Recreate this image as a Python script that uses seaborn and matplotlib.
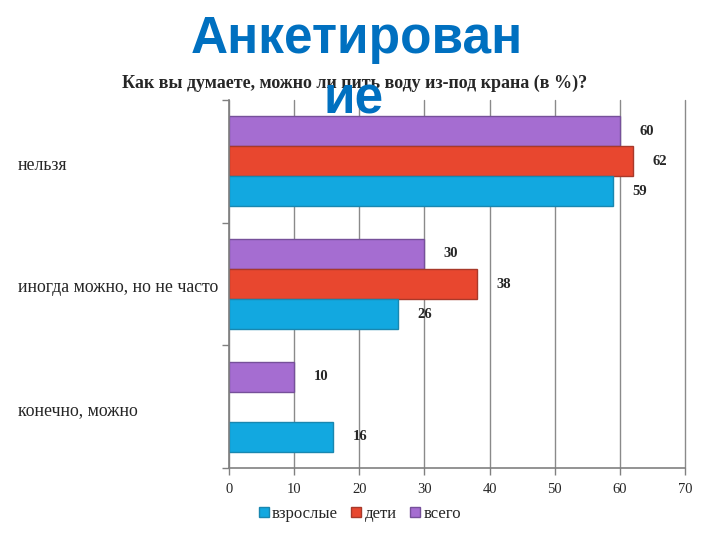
import numpy as np
import pandas as pd
import matplotlib
matplotlib.use('Agg')
import matplotlib.pyplot as plt
import matplotlib.patches as mpatches
import matplotlib.transforms as mtransforms
import seaborn as sns

# данные опроса
categories = ['нельзя', 'иногда можно, но не часто', 'конечно, можно']
vzroslye = [59, 26, 16]
deti = [62, 38, np.nan]
vsego = [60, 30, 10]
series_names = ['взрослые', 'дети', 'всего']
x_ticks = [0, 10, 20, 30, 40, 50, 60, 70]

colors = {'взрослые': '#12A8E0', 'дети': '#E8472F', 'всего': '#A56DD1'}
edges = {'взрослые': '#1987B0', 'дети': '#A8392A', 'всего': '#76509A'}

df = pd.DataFrame({
    'cat': categories * 3,
    'series': [series_names[0]] * 3 + [series_names[1]] * 3 + [series_names[2]] * 3,
    'val': vzroslye + deti + vsego,
})

sns.set_style('white')
plt.rcParams['font.family'] = ['Liberation Serif', 'DejaVu Serif']

fig = plt.figure(figsize=(7.2, 5.4), dpi=100)
ax = fig.add_axes([229 / 720, 72 / 540, 456 / 720, 368 / 540])

# сверху вниз: всего, дети, взрослые
hue_order = ['всего', 'дети', 'взрослые']
sns.barplot(data=df, x='val', y='cat', hue='series', hue_order=hue_order,
            order=categories, palette=colors, width=0.735, ax=ax,
            legend=False, orient='h', saturation=1)

# обводка баров и подписи значений
for cont, name in zip(ax.containers, hue_order):
    for bar in cont:
        bar.set_edgecolor(edges[name])
        bar.set_linewidth(1)
    labels = []
    for bar in cont:
        w = bar.get_width()
        labels.append('' if (np.isnan(w) or w == 0) else '%d' % w)
    ax.bar_label(cont, labels=labels, padding=14, fontsize=10.5,
                 fontweight='bold')

ax.set_xlim(0, 70)
ax.set_ylim(2.5, -0.5)
ax.set_xticks(x_ticks)
ax.set_xticklabels([str(t) for t in x_ticks], fontsize=10.5)
ax.set_yticks([-0.5, 0.5, 1.5, 2.5])
ax.set_yticklabels([])
ax.tick_params(axis='both', length=5, width=1, color='#808080',
               direction='out', left=True, bottom=True, pad=6)
ax.set_xlabel('')
ax.set_ylabel('')
ax.xaxis.grid(True, color='#8a8a8a', linewidth=1)
for gl in ax.get_xgridlines():
    gl.set_clip_on(False)
ax.set_axisbelow(True)
for s in ['top', 'right']:
    ax.spines[s].set_visible(False)
for s in ['left', 'bottom']:
    ax.spines[s].set_color('#808080')
    ax.spines[s].set_linewidth(1.2)

# подписи категорий слева
trans = mtransforms.blended_transform_factory(fig.transFigure, ax.transData)
for i, c in enumerate(categories):
    ax.text(18 / 720, i + 0.03, c, transform=trans, ha='left', va='center',
            fontsize=12.8)

# легенда
handles = [mpatches.Patch(facecolor=colors[n], edgecolor=edges[n]) for n in series_names]
fig.legend(handles, series_names, loc='center', bbox_to_anchor=(0.5, 26 / 540),
           ncol=3, frameon=False, fontsize=12, handlelength=0.6, handleheight=0.6,
           handletextpad=0.2, columnspacing=0.8)

# заголовок диаграммы
fig.text(355 / 720, 1 - 83 / 540, 'Как вы думаете, можно ли пить воду из-под крана (в %)?',
         ha='center', va='center', fontsize=13, fontweight='bold')

# большой заголовок слайда (переносится на две строки, как в оригинале)
fig.text(357 / 720, 1 - 40 / 540, 'Анкетирован', ha='center', va='center',
         fontsize=37, fontweight='bold', color='#0070C0', family='Liberation Sans')
fig.text(354 / 720, 1 - 100 / 540, 'ие', ha='center', va='center',
         fontsize=37, fontweight='bold', color='#0070C0', family='Liberation Sans')

fig.savefig('out.png', dpi=100)
